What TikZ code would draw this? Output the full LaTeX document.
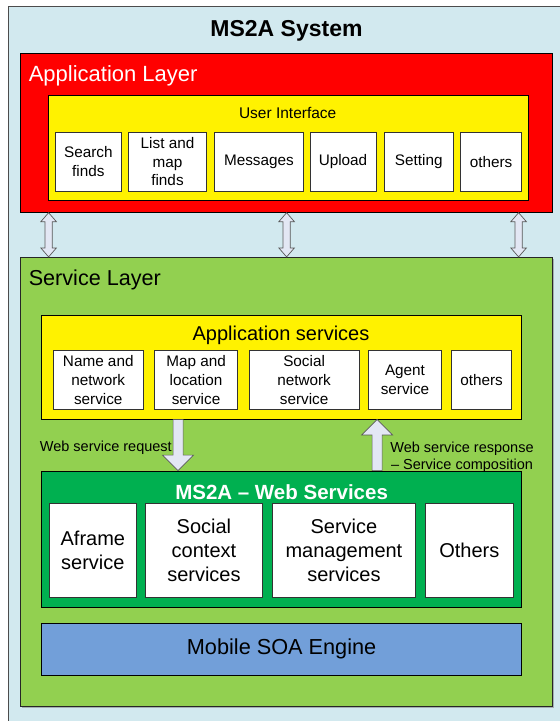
\documentclass[tikz,border=0pt]{standalone}
\usepackage{fontspec}
\setmainfont{Liberation Sans}
\usetikzlibrary{calc,shadows}
\definecolor{skyback}{RGB}{210,233,239}
\definecolor{leafgreen}{RGB}{146,208,80}
\definecolor{wsgreen}{RGB}{0,176,80}
\definecolor{soablue}{RGB}{114,159,217}
\definecolor{arrowfill}{RGB}{227,231,244}

\begin{document}
\begin{tikzpicture}[x=1pt, y=-1pt, line join=miter,
	layer/.style={draw=black, line width=0.8pt, inner sep=0pt},
	cell/.style={draw=black!80, fill=white, line width=0.7pt, inner sep=1pt, align=center},
	small/.style={font=\fontsize{15.3}{18.7}\selectfont},
	big/.style={font=\fontsize{20}{24.3}\selectfont},
	lbl/.style={inner sep=0pt, anchor=base},
	link/.style={draw=black!65, fill=arrowfill, line width=0.7pt},
	% hollow arrow with a head at both ends
	bothways/.style={to path={let \p1=(\tikztostart), \p2=(\tikztotarget), \n1={sign(\y2-(\y1))} in
		(\x1,\y1) -- (\x1+7.8pt,{\y1+(\n1*9pt)}) -- (\x1+3.6pt,{\y1+(\n1*9pt)})
		-- (\x2+3.6pt,{\y2-(\n1*9pt)}) -- (\x2+7.8pt,{\y2-(\n1*9pt)}) -- (\x2,\y2)
		-- (\x2-7.8pt,{\y2-(\n1*9pt)}) -- (\x2-3.6pt,{\y2-(\n1*9pt)})
		-- (\x1-3.6pt,{\y1+(\n1*9pt)}) -- (\x1-7.8pt,{\y1+(\n1*9pt)}) -- cycle}},
	% hollow arrow, head at the target
	oneway/.style={to path={let \p1=(\tikztostart), \p2=(\tikztotarget), \n1={sign(\y2-(\y1))} in
		(\x1-5pt,\y1) -- (\x2-5pt,{\y2-(\n1*15.5pt)}) -- (\x2-15.5pt,{\y2-(\n1*15.5pt)}) -- (\x2,\y2)
		-- (\x2+15.5pt,{\y2-(\n1*15.5pt)}) -- (\x2+5pt,{\y2-(\n1*15.5pt)}) -- (\x1+5pt,\y1) -- cycle}}]
	\useasboundingbox (0,0) rectangle (560,721);
	\clip (0,0) rectangle (560,721);
	\draw[draw=black!70, line width=0.8pt, fill=skyback] (8,6) rectangle (575,735);
	\node[lbl, font=\bfseries\fontsize{23}{28}\selectfont] (title) at (286.5,36) {MS2A System};
	
	% application layer
	\node[layer, fill=red, minimum width=531.8, minimum height=159] (applayer) at (286.6,132.8) {};
	\node[lbl, anchor=base west, text=white, font=\fontsize{22}{26}\selectfont] (apptitle) at (28.6,81.7) {Application Layer};
	\node[layer, fill=yellow, minimum width=479.7, minimum height=104.3] (ui) at (288.05,147.85) {};
	\node[lbl, font=\fontsize{15.5}{18}\selectfont] (uititle) at (287.7,118.5) {User Interface};
	\node[cell, small, minimum width=66, minimum height=58.7] (search) at (88.4,161.65) {Search\\finds};
	\node[cell, small, minimum width=77.8, minimum height=58.7] (listmap) at (167.5,161.65) {List and\\map\\finds};
	\node[cell, small, minimum width=89.3, minimum height=58.7] (messages) at (258.95,161.65) {Messages};
	\node[cell, small, minimum width=66, minimum height=58.7] (upload) at (343,161.65) {Upload};
	\node[cell, small, minimum width=69.6, minimum height=58.7] (setting) at (418.8,161.65) {Setting};
	\node[cell, small, minimum width=60.7, minimum height=58.7] (uiothers) at (491.05,161.65) {others};
	
	% service layer
	\node[layer, draw=black!85, fill=leafgreen, minimum width=531.8, minimum height=449.4,
		drop shadow={shadow xshift=1.3pt, shadow yshift=-1.3pt, opacity=.55}] (servlayer) at (286.6,482) {};
	\node[lbl, anchor=base west, font=\fontsize{21.6}{26}\selectfont] (servtitle) at (28.6,285) {Service Layer};
	\node[layer, fill=yellow, minimum width=479.6, minimum height=104] (appsvc) at (281.6,367) {};
	\node[lbl, font=\fontsize{20}{24}\selectfont] (appsvctitle) at (281,340) {Application services};
	\node[cell, small, minimum width=90.7, minimum height=58.6] (namenet) at (98.25,380) {Name and\\network\\service};
	\node[cell, small, minimum width=82.9, minimum height=58.6] (maploc) at (196.05,380) {Map and\\location\\service};
	\node[cell, small, minimum width=110.4, minimum height=58.6] (social) at (304.1,380) {Social\\network\\service};
	\node[cell, small, minimum width=72.8, minimum height=58.6] (agent) at (405,380) {Agent\\service};
	\node[cell, small, minimum width=60.4, minimum height=58.6] (svcothers) at (481.6,380) {others};
	
	% web services
	\node[layer, fill=wsgreen, minimum width=479.6, minimum height=136.3] (websvc) at (281.6,539.15) {};
	\node[lbl, text=white, font=\bfseries\fontsize{20.5}{24}\selectfont] (webtitle) at (281.6,499.3) {MS2A -- Web Services};
	\node[cell, big, minimum width=87.9, minimum height=94] (aframe) at (92.85,550.3) {Aframe\\service};
	\node[cell, big, minimum width=117.1, minimum height=94] (socctx) at (203.95,550.3) {Social\\context\\services};
	\node[cell, big, minimum width=142.9, minimum height=94] (svcmgmt) at (343.95,550.3) {Service\\management\\services};
	\node[cell, big, minimum width=88.6, minimum height=94] (wsothers) at (469.3,550.3) {Others};
	
	\node[layer, fill=soablue, minimum width=479.6, minimum height=51.7, font=\fontsize{21.7}{26}\selectfont] (engine) at (281.6,649.15) {Mobile SOA Engine};
	
	% links between the layers
	\foreach \dx in {28.3,266.3,498.3}
	\draw[link] ([xshift=\dx]applayer.south west) to[bothways] ([xshift=\dx]servlayer.north west);
	\draw[link] ([xshift=136.7]appsvc.south west) to[oneway] ([xshift=136.7]websvc.north west);
	\draw[link] ([xshift=335.7]websvc.north west) to[oneway] ([xshift=335.7]appsvc.south west);
	\node[lbl, anchor=base east, font=\fontsize{14.5}{17}\selectfont] (request) at (172,451.5) {Web service request};
	\node[inner sep=0pt, align=center, font=\fontsize{14.5}{16.8}\selectfont] (response) at (462,457.6) {Web service response\\-- Service composition};
\end{tikzpicture}
\end{document}
